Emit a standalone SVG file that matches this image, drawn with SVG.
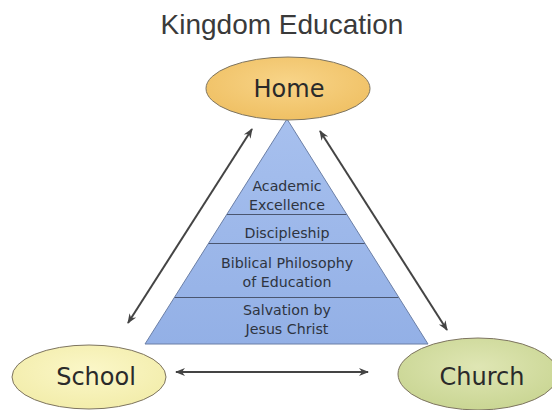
<svg xmlns="http://www.w3.org/2000/svg" width="552" height="410" viewBox="0 0 552 410">
<style>
.title{font-family:"Liberation Sans",Arial,sans-serif;font-size:28px;fill:#3a3a3a;text-anchor:middle}
.node{font-family:"DejaVu Sans","Noto Sans",sans-serif;font-size:24px;fill:#2a2a2a;text-anchor:middle}
.lay{font-family:"DejaVu Sans","Noto Sans",sans-serif;font-size:14.2px;fill:#2e3440;text-anchor:middle}
.conn{stroke:#444;stroke-width:2;fill:none;marker-start:url(#ah);marker-end:url(#ah)}
.ell{stroke:#7d7460;stroke-width:1}
.div{stroke:#4a5670;stroke-width:1}
</style>
<defs>
<marker id="ah" viewBox="0 0 10 10" refX="9" refY="5" markerWidth="5" markerHeight="5" orient="auto-start-reverse" markerUnits="strokeWidth">
<path d="M0,1 L10,5 L0,9 L3,5 Z" fill="#444"/>
</marker>
<linearGradient id="gp" x1="0" y1="0" x2="0" y2="1">
<stop offset="0" stop-color="#a7c0ee"/>
<stop offset="1" stop-color="#93b0e6"/>
</linearGradient>
<radialGradient id="gh" cx="0.5" cy="0.4" r="0.7">
<stop offset="0" stop-color="#f8d488"/>
<stop offset="1" stop-color="#eebd5e"/>
</radialGradient>
<radialGradient id="gs" cx="0.5" cy="0.4" r="0.7">
<stop offset="0" stop-color="#fbf7c8"/>
<stop offset="1" stop-color="#f1eba6"/>
</radialGradient>
<radialGradient id="gc" cx="0.5" cy="0.4" r="0.7">
<stop offset="0" stop-color="#dfe6b4"/>
<stop offset="1" stop-color="#c6d38e"/>
</radialGradient>
</defs>
<rect width="552" height="410" fill="#ffffff"/>
<text class="title" x="282" y="34">Kingdom Education</text>

<g id="pyramid">
<polygon points="287,119 145,344 428,344" fill="url(#gp)" stroke="#6b7fa6" stroke-width="1"/>
<line class="div" x1="227" y1="214.5" x2="346.5" y2="214.5"/>
<line class="div" x1="208.7" y1="243.5" x2="364.7" y2="243.5"/>
<line class="div" x1="174.7" y1="297.5" x2="398.5" y2="297.5"/>
<text class="lay" x="287" y="191">Academic</text>
<text class="lay" x="287" y="210">Excellence</text>
<text class="lay" x="287" y="238">Discipleship</text>
<text class="lay" x="287" y="268">Biblical Philosophy</text>
<text class="lay" x="287" y="287">of Education</text>
<text class="lay" x="287" y="315">Salvation by</text>
<text class="lay" x="287" y="334">Jesus Christ</text>
</g>

<g id="connectors">
<line class="conn" x1="128" y1="323" x2="252" y2="129"/>
<line class="conn" x1="320" y1="131" x2="447" y2="330"/>
<line class="conn" x1="176" y1="372" x2="368" y2="372"/>
</g>

<g id="home">
<ellipse class="ell" cx="288" cy="88.5" rx="82" ry="31.5" fill="url(#gh)"/>
<text class="node" x="289" y="97">Home</text>
</g>
<g id="school">
<ellipse class="ell" cx="89" cy="377" rx="77" ry="32" fill="url(#gs)"/>
<text class="node" x="96" y="385">School</text>
</g>
<g id="church">
<ellipse class="ell" cx="478" cy="374" rx="80" ry="36" fill="url(#gc)"/>
<text class="node" x="482" y="385">Church</text>
</g>
</svg>
